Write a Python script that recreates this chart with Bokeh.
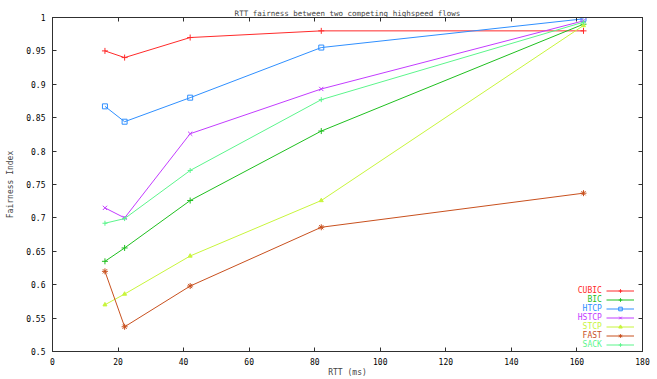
from bokeh.plotting import figure
from bokeh.models import Range1d, Legend, LegendItem, Label, LinearAxis, FixedTicker
from bokeh.embed import file_html
from bokeh.resources import INLINE

# ---- data ----
rtt = [16, 22, 42, 82, 162]
series_names = ["CUBIC", "BIC", "HTCP", "HSTCP", "STCP", "FAST", "SACK"]
cubic = [0.950, 0.940, 0.970, 0.980, 0.980]
bic = [0.635, 0.655, 0.726, 0.830, 0.990]
htcp = [0.867, 0.844, 0.880, 0.955, 0.998]
hstcp = [0.715, 0.700, 0.826, 0.893, 0.995]
stcp = [0.570, 0.586, 0.643, 0.726, 0.988]
fast = [0.620, 0.537, 0.598, 0.686, 0.737]
sack = [0.692, 0.699, 0.771, 0.877, 0.993]
x_ticks = [0, 20, 40, 60, 80, 100, 120, 140, 160, 180]
y_ticks = [0.5, 0.55, 0.6, 0.65, 0.7, 0.75, 0.8, 0.85, 0.9, 0.95, 1.0]

values = [cubic, bic, htcp, hstcp, stcp, fast, sack]
colors = ["#ff2a2a", "#1fbf1f", "#2f8fff", "#c23cff", "#c8f53c", "#c8501e", "#5cf58c"]
markers = ["cross", "cross", "square", "x", "triangle", "asterisk", "cross"]
fills = [True, True, False, True, True, True, True]
sizes = [6, 6, 5, 6, 4, 6, 5]

FONT = "DejaVu Sans Mono"
FS = "8px"

p = figure(width=657, height=379, output_backend="svg", toolbar_location=None,
           x_range=Range1d(0, 180), y_range=Range1d(0.5, 1.0),
           min_border_left=52, min_border_right=15, min_border_top=17, min_border_bottom=27,
           title="RTT fairness between two competing highspeed flows")
p.title.text_font = FONT
p.title.text_font_size = "7.5px"
p.title.text_font_style = "normal"
p.title.align = "center"
p.title.standoff = 0
p.title.offset = 0

p.grid.visible = False
p.outline_line_color = "#303030"
p.outline_line_width = 1

for ax in (p.xaxis[0], p.yaxis[0]):
    ax.major_label_text_font = FONT
    ax.major_label_text_font_size = FS
    ax.major_label_text_color = "#000000"
    ax.axis_label_text_font = FONT
    ax.axis_label_text_font_size = FS
    ax.axis_label_text_font_style = "normal"
    ax.major_tick_in = 4
    ax.major_tick_out = 0
    ax.minor_tick_line_color = None
    ax.axis_line_color = "#303030"
    ax.major_tick_line_color = "#303030"

p.xaxis[0].ticker = FixedTicker(ticks=x_ticks)
p.yaxis[0].ticker = FixedTicker(ticks=y_ticks)
p.xaxis[0].major_label_overrides = {t: str(t) for t in x_ticks}
p.yaxis[0].major_label_overrides = {t: ("1" if t == 1.0 else ("%g" % t)) for t in y_ticks}
p.xaxis[0].axis_label = "RTT (ms)"
p.yaxis[0].axis_label = "Fairness Index"
p.xaxis[0].major_label_standoff = 6
p.xaxis[0].axis_label_standoff = 0
p.yaxis[0].major_label_standoff = 7
p.yaxis[0].axis_label_standoff = 8

# mirrored ticks on top and right (labels hidden)
top_ax = LinearAxis(ticker=FixedTicker(ticks=x_ticks), major_label_text_font_size="1px",
                    major_label_text_alpha=0, major_label_text_color=None,
                    major_tick_in=4, major_tick_out=0, minor_tick_line_color=None,
                    axis_line_color="#303030", major_tick_line_color="#303030",
                    major_label_standoff=0)
right_ax = LinearAxis(ticker=FixedTicker(ticks=y_ticks), major_label_text_font_size="1px",
                      major_label_text_alpha=0, major_label_text_color=None,
                      major_tick_in=4, major_tick_out=0, minor_tick_line_color=None,
                      axis_line_color="#303030", major_tick_line_color="#303030",
                      major_label_standoff=0)
p.add_layout(top_ax, "above")
p.add_layout(right_ax, "right")

items = []
for name, vals, c, m, f, s in zip(series_names, values, colors, markers, fills, sizes):
    r1 = p.line(rtt, vals, line_color=c, line_width=1)
    r2 = p.scatter(rtt, vals, marker=m, size=s, line_color=c,
                   fill_color=(c if f else None), line_width=1)
    items.append(LegendItem(label=name, renderers=[r1, r2]))

legend = Legend(items=items, location=(554, 2), orientation="vertical",
                label_text_alpha=0, label_text_color=None, label_text_font_size="1px",
                label_width=0, label_standoff=0, glyph_width=28, glyph_height=9,
                label_height=9, spacing=0, padding=0, margin=0,
                border_line_alpha=0, background_fill_alpha=0)
p.add_layout(legend, "center")

# legend texts (right-aligned, coloured like their series)
ly0 = 0.5917
ldy = 0.01346
for i, (name, c) in enumerate(zip(series_names, colors)):
    p.add_layout(Label(x=167.6, y=ly0 - i * ldy, text=name, text_align="right",
                       text_baseline="middle", text_color=c, text_font=FONT,
                       text_font_size=FS))

html = file_html(p, INLINE)
open("out.html", "w").write(html)
